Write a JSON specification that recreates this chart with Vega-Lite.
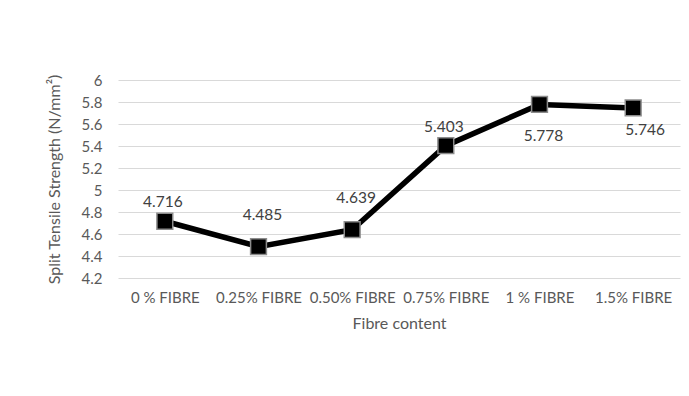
{
  "$schema": "https://vega.github.io/schema/vega-lite/v6.json",
  "autosize": {"type": "none"},
  "width": 562,
  "height": 198,
  "padding": {"left": 118, "top": 80, "right": 9, "bottom": 118},
  "background": "white",
  "config": {
    "view": {"stroke": null},
    "font": "Lato",
    "axis": {"labelFont": "Lato", "titleFont": "Lato", "labelColor": "#595959", "titleColor": "#595959", "titleFontWeight": "normal"}
  },
  "data": {
    "values": [
      {"fibre": "0 % FIBRE", "strength": 4.716},
      {"fibre": "0.25% FIBRE", "strength": 4.485},
      {"fibre": "0.50% FIBRE", "strength": 4.639},
      {"fibre": "0.75% FIBRE", "strength": 5.403},
      {"fibre": "1 % FIBRE", "strength": 5.778},
      {"fibre": "1.5% FIBRE", "strength": 5.746}
    ]
  },
  "encoding": {
    "x": {
      "field": "fibre", "type": "nominal", "sort": null,
      "scale": {"type": "point", "padding": 0.5},
      "axis": {"title": "Fibre content", "labelAngle": 0, "labelFontSize": 15, "titleFontSize": 16, "domain": false, "ticks": false, "labelPadding": 12, "titlePadding": 10, "grid": false}
    },
    "y": {
      "field": "strength", "type": "quantitative",
      "scale": {"domain": [4.2, 6], "nice": false, "zero": false},
      "axis": {"title": "Split Tensile Strength (N/mm²)", "format": ".1~f", "values": [4.2, 4.4, 4.6, 4.8, 5, 5.2, 5.4, 5.6, 5.8, 6], "labelFontSize": 15, "titleFontSize": 16, "domain": false, "ticks": false, "labelPadding": 16, "titlePadding": 19, "grid": true, "gridColor": "#d9d9d9", "gridWidth": 1}
    }
  },
  "layer": [
    {"mark": {"type": "line", "color": "black", "strokeWidth": 5.5}},
    {"mark": {"type": "point", "shape": "square", "filled": true, "size": 250, "color": "black", "stroke": "#8c8c8c", "strokeWidth": 1.5, "opacity": 1}},
    {
      "transform": [{"filter": "datum.fibre == '0 % FIBRE' || datum.fibre == '0.75% FIBRE'"}],
      "mark": {"type": "text", "dy": -19, "dx": -2, "fontSize": 15.5, "color": "#404040"},
      "encoding": {"text": {"field": "strength", "type": "quantitative", "format": ".3f"}}
    },
    {
      "transform": [{"filter": "datum.fibre == '0.25% FIBRE' || datum.fibre == '0.50% FIBRE'"}],
      "mark": {"type": "text", "dy": -32, "dx": 4, "fontSize": 15.5, "color": "#404040"},
      "encoding": {"text": {"field": "strength", "type": "quantitative", "format": ".3f"}}
    },
    {
      "transform": [{"filter": "datum.fibre == '1 % FIBRE'"}],
      "mark": {"type": "text", "dy": 32, "dx": 4, "fontSize": 15.5, "color": "#404040"},
      "encoding": {"text": {"field": "strength", "type": "quantitative", "format": ".3f"}}
    },
    {
      "transform": [{"filter": "datum.fibre == '1.5% FIBRE'"}],
      "mark": {"type": "text", "dy": 22, "dx": 12, "fontSize": 15.5, "color": "#404040"},
      "encoding": {"text": {"field": "strength", "type": "quantitative", "format": ".3f"}}
    }
  ]
}
